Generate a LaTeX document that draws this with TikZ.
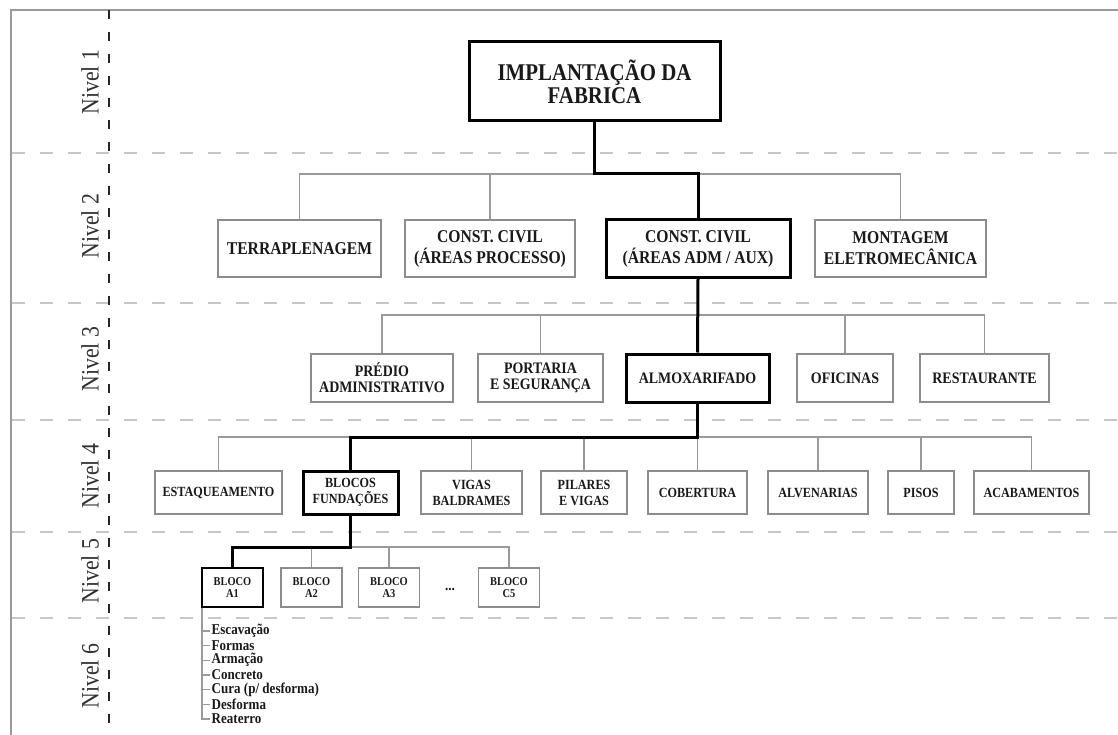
\documentclass[tikz,border=0pt]{standalone}
\usepackage{fontspec}
\setmainfont{Liberation Serif}[FakeStretch=0.87]
\definecolor{boxgray}{gray}{0.55}
\definecolor{linegray}{gray}{0.6}
\definecolor{dashgray}{gray}{0.78}
\definecolor{framegray}{gray}{0.6}
\definecolor{ink}{gray}{0.1}
\begin{document}
\begin{tikzpicture}[x=1pt,y=-1pt,
  box/.style={draw=boxgray, line width=1.5pt, fill=white, align=center,
    inner sep=0pt, text=ink, font=\bfseries},
  key/.style={box, draw=black, line width=3pt},
  conn/.style={draw=linegray, line width=1.5pt},
  path/.style={draw=black, line width=3pt, line join=miter},
  lvl/.style={rotate=90, text=ink!90, font=\fontsize{25}{25}\selectfont},
  grid/.style={draw=dashgray, line width=2.5pt, dash pattern=on 13pt off 15pt},
  axis/.style={draw=black!85, line width=1.3pt, dash pattern=on 9pt off 13pt},
  f1/.style={font=\bfseries\fontsize{24}{23}\selectfont},
  f2/.style={font=\bfseries\fontsize{18}{21}\selectfont, minimum height=57pt},
  f3/.style={font=\bfseries\fontsize{16}{16}\selectfont, minimum height=48pt},
  f4/.style={font=\bfseries\fontsize{14}{16}\selectfont, minimum height=43pt},
  f5/.style={font=\bfseries\fontsize{12}{11.5}\selectfont, minimum height=39pt, minimum width=61pt},
  item/.style={anchor=west, inner sep=1.5pt, text=ink, font=\bfseries\fontsize{15}{15}\selectfont}
]
\useasboundingbox (0,0) rectangle (1118,735);

% frame
\draw[draw=framegray, line width=2pt] (11,735) -- (11,10) -- (1118,10);

% level separators and axis
\foreach \yy in {153,303,420,532,618}
  \draw[grid] (12,\yy) -- (1118,\yy);
\draw[axis] (109,10) -- (109,735);

% level labels
\node[lvl] (n1) at (90,82)  {Nivel 1};
\node[lvl] (n2) at (90,226) {Nivel 2};
\node[lvl] (n3) at (90,359) {Nivel 3};
\node[lvl] (n4) at (90,476) {Nivel 4};
\node[lvl] (n5) at (90,571) {Nivel 5};
\node[lvl] (n6) at (90,676) {Nivel 6};

% bus heights
\coordinate (bus2) at (0,174);
\coordinate (bus3) at (0,315);
\coordinate (bus4) at (0,437);
\coordinate (bus5) at (0,547);

% level 1
\node[key, f1, minimum width=251pt, minimum height=79pt] (top) at (594.5,81.5)
  {IMPLANTAÇÃO DA\\FABRICA};

% level 2
\node[box, f2, minimum width=163pt] (terra) at (299.5,248.5) {TERRAPLENAGEM};
\node[box, f2, minimum width=170pt] (procs) at (490,248.5) {CONST. CIVIL\\(ÁREAS PROCESSO)};
\node[key, f2, minimum width=184pt] (adm)   at (698,248.5) {CONST. CIVIL\\(ÁREAS ADM / AUX)};
\node[box, f2, minimum width=171pt] (mont)  at (900.5,248.5) {MONTAGEM\\ELETROMECÂNICA};

% level 3
\node[box, f3, minimum width=142pt] (predio) at (382,378) {PRÉDIO\\ADMINISTRATIVO};
\node[box, f3, minimum width=125pt] (port)   at (540.5,378) {PORTARIA\\E SEGURANÇA};
\node[key, f3, minimum width=143pt] (almox)  at (697.5,378) {ALMOXARIFADO};
\node[box, f3, minimum width=96pt]  (ofic)   at (845,378) {OFICINAS};
\node[box, f3, minimum width=129pt] (rest)   at (984.5,378) {RESTAURANTE};

% level 4
\node[box, f4, minimum width=127pt] (estaq)  at (218.5,492.5) {ESTAQUEAMENTO};
\node[key, f4, minimum width=95pt]  (blocos) at (350.5,492.5) {BLOCOS\\FUNDAÇÕES};
\node[box, f4, minimum width=101pt] (vigas)  at (471.5,492.5) {VIGAS\\BALDRAMES};
\node[box, f4, minimum width=86pt]  (pil)    at (584,492.5) {PILARES\\E VIGAS};
\node[box, f4, minimum width=99pt]  (cob)    at (697.5,492.5) {COBERTURA};
\node[box, f4, minimum width=100pt] (alv)    at (818,492.5) {ALVENARIAS};
\node[box, f4, minimum width=66pt]  (pisos)  at (921,492.5) {PISOS};
\node[box, f4, minimum width=115pt] (acab)   at (1031.5,492.5) {ACABAMENTOS};

% level 5
\node[key, f5, line width=2.5pt] (b1) at (232.5,587.5) {BLOCO\\A1};
\node[box, f5] (b2) at (311.5,587.5) {BLOCO\\A2};
\node[box, f5] (b3) at (389,587.5)   {BLOCO\\A3};
\node[text=ink, font=\bfseries\fontsize{15}{15}\selectfont] (dots) at (450,589) {...};
\node[box, f5] (bc) at (509,587.5)   {BLOCO\\C5};

% level 6 activities
\foreach \t [count=\i] in {Escavação,Formas,Armação,Concreto,Cura (p/ desforma),Desforma,Reaterro}
  \node[item] (i\i) at (210,631+14.65*\i-14.65) {\t};

% thin connectors
\draw[conn] (terra.north) |- (mont.north |- bus2) -- (mont.north);
\draw[conn] (procs.north) -- (procs.north |- bus2);

\draw[conn] (predio.north) |- (rest.north |- bus3) -- (rest.north);
\draw[conn] (port.north) -- (port.north |- bus3);
\draw[conn] (ofic.north) -- (ofic.north |- bus3);

\draw[conn] (estaq.north) |- (acab.north |- bus4) -- (acab.north);
\foreach \n in {vigas,pil,cob,alv,pisos}
  \draw[conn] (\n.north) -- (\n.north |- bus4);

\draw[conn] (b1.north) |- (bc.north |- bus5) -- (bc.north);
\foreach \n in {b2,b3}
  \draw[conn] (\n.north) -- (\n.north |- bus5);

\coordinate (spine) at ([xshift=1pt]b1.south west);
\draw[conn] (spine) |- (i7.west);
\foreach \i in {1,...,6}
  \draw[conn] (i\i.west) -- (i\i.west -| spine);

% highlighted path
\draw[path] (top.south) -- (top.south |- bus2) -| (adm.north);
\draw[path] (adm.south) -- (almox.north);
\draw[path] (almox.south) -- (almox.south |- bus4) -| (blocos.north);
\draw[path] (blocos.south) -- (blocos.south |- bus5) -| (b1.north);
\end{tikzpicture}
\end{document}
